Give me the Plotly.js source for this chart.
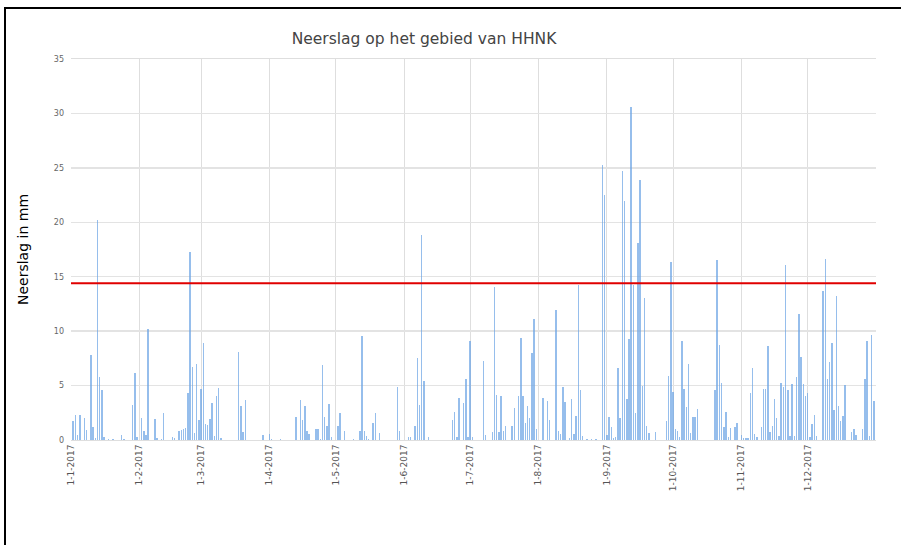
<!DOCTYPE html>
<html>
<head>
<meta charset="utf-8">
<script src="https://cdn.plot.ly/plotly-3.0.1.min.js"></script>
<style>
  html, body { margin: 0; padding: 0; background: #fff; }
  #wrap { position: relative; width: 901px; height: 545px; overflow: hidden; }
  #chart { position: absolute; left: 0; top: 0; width: 901px; height: 545px; }
  #frame { position: absolute; left: 4px; top: 7px; width: 900px; height: 560px;
           border-left: 2px solid #000; border-top: 2px solid #000; pointer-events: none; }
</style>
</head>
<body>
<div id="wrap">
  <div id="chart"></div>
  <div id="frame"></div>
</div>
<script>
// Daily precipitation (mm) per month: day-of-month and value
const daysJan = [2,3,4,5,7,8,10,11,12,13,14,15,16,18,20,24,25,29,30,31];
const mmJan   = [1.7,2.3,0.5,2.3,2.0,0.9,7.8,1.2,0.2,20.2,5.8,4.6,0.3,0.1,0.1,0.5,0.1,3.2,6.2,0.3];
const daysFeb = [2,3,4,5,8,9,11,12,16,17,19,20,21,22,23,24,25,26,27,28];
const mmFeb   = [2.0,0.8,0.5,10.2,1.9,0.2,0.1,2.5,0.3,0.2,0.8,0.9,1.0,1.1,4.3,17.3,6.7,0.6,7.0,1.8];
const daysMar = [1,2,3,4,5,6,7,8,9,10,18,19,20,21,29];
const mmMar   = [4.7,8.9,1.5,1.4,1.9,3.4,0.4,4.0,4.75,0.2,8.1,3.1,0.7,3.7,0.5];
const daysApr = [1,2,6,13,15,16,17,18,19,22,23,24,25,26,27,28,29];
const mmApr   = [0.55,0.1,0.05,2.1,3.7,1.8,3.1,0.8,0.55,1.0,1.0,0.1,6.9,2.1,1.3,3.3,0.3];
const daysMay = [2,3,5,9,12,13,14,15,16,18,19,21,29,30];
const mmMay   = [1.3,2.5,0.85,0.05,0.85,9.6,0.85,0.4,0.1,1.6,2.5,0.6,4.9,0.85];
const daysJun = [3,4,6,7,8,9,10,12,23,24,25,26,28,29,30];
const mmJun   = [0.3,0.3,1.3,7.5,3.2,18.8,5.4,0.25,1.8,2.6,0.3,3.9,3.4,5.6,0.25];
const daysJul = [1,2,7,8,11,12,13,14,15,16,17,20,21,23,24,25,26,27,28,29,30,31];
const mmJul   = [9.1,0.25,7.3,0.45,0.7,14.1,4.1,0.7,4.05,0.8,1.3,1.3,2.9,4.05,9.4,4.05,1.6,3.1,2.0,8.0,11.1,1.0];
const daysAug = [3,5,6,9,10,11,12,13,15,16,17,18,19,20,21,23,25,27,30,31];
const mmAug   = [3.9,3.6,1.8,11.9,0.85,0.55,4.85,3.5,0.15,3.8,0.55,2.2,14.2,4.6,0.4,0.1,0.1,0.1,25.3,22.5];
const daysSep = [1,2,3,4,5,6,7,8,9,10,11,12,13,14,15,16,17,18,19,20,23,28,29,30];
const mmSep   = [0.45,2.1,1.2,0.15,0.3,6.6,2.0,24.7,22.0,3.8,9.3,30.6,14.2,2.5,18.1,23.9,5.0,13.0,1.3,0.6,0.7,1.75,5.9,16.35];
const daysOct = [1,2,3,4,5,6,7,8,9,10,11,12,20,21,22,23,24,25,26,27,29,30];
const mmOct   = [4.4,1.0,0.8,0.25,9.1,4.7,3.0,7.0,0.6,2.15,2.15,2.85,4.6,16.5,8.7,5.2,1.2,2.55,0.25,1.1,1.2,1.6];
const daysNov = [1,2,3,4,5,6,7,8,10,11,12,13,14,15,16,17,18,19,20,21,22,23,24,25,26,27,28,29,30];
const mmNov   = [0.5,0.15,0.15,0.2,4.3,6.65,0.55,0.3,1.2,4.7,4.65,8.65,0.7,1.3,3.75,2.0,0.35,5.2,4.9,16.1,4.6,0.4,5.1,0.4,5.8,11.55,7.65,5.1,4.05];
const daysDec = [1,2,3,4,5,8,9,10,11,12,13,14,15,16,17,18,21,22,23,26,27,28,29,30,31];
const mmDec   = [4.3,0.3,1.45,2.3,0.4,13.7,16.65,5.6,7.15,8.95,2.8,13.2,3.1,1.7,2.25,5.05,0.7,1.0,0.45,1.0,5.6,9.05,0.4,9.65,3.6];

const thresholdMm = 14.4;

const tickDates  = ['2017-01-01','2017-02-01','2017-03-01','2017-04-01','2017-05-01','2017-06-01',
                    '2017-07-01','2017-08-01','2017-09-01','2017-10-01','2017-11-01','2017-12-01'];
const tickLabels = ['1-1-2017','1-2-2017','1-3-2017','1-4-2017','1-5-2017','1-6-2017',
                    '1-7-2017','1-8-2017','1-9-2017','1-10-2017','1-11-2017','1-12-2017'];

const monthDays = [daysJan,daysFeb,daysMar,daysApr,daysMay,daysJun,daysJul,daysAug,daysSep,daysOct,daysNov,daysDec];
const monthMm   = [mmJan,mmFeb,mmMar,mmApr,mmMay,mmJun,mmJul,mmAug,mmSep,mmOct,mmNov,mmDec];

const x = [], y = [];
monthDays.forEach((days, m) => {
  days.forEach((d, i) => {
    x.push('2017-' + String(m + 1).padStart(2, '0') + '-' + String(d).padStart(2, '0'));
    y.push(monthMm[m][i]);
  });
});

const DAY = 86400000;
const bars = {
  type: 'bar', x: x, y: y,
  width: x.map(() => 0.65 * DAY),
  marker: { color: 'rgba(110,165,228,0.72)', line: { width: 0 } },
  hoverinfo: 'x+y', showlegend: false
};

const layout = {
  width: 901, height: 545,
  margin: { l: 71, r: 25, t: 59, b: 105 },
  paper_bgcolor: '#fff', plot_bgcolor: '#fff',
  font: { family: 'DejaVu Sans, sans-serif', color: '#555' },
  title: { text: 'Neerslag op het gebied van HHNK', x: 0.4706, xref: 'container', xanchor: 'center',
           y: 0.930, yref: 'container', yanchor: 'middle',
           font: { family: 'DejaVu Sans, sans-serif', size: 15.5, color: '#444' } },
  bargap: 0,
  xaxis: {
    type: 'date', range: ['2017-01-01', '2018-01-01'],
    tickmode: 'array', tickvals: tickDates, ticktext: tickLabels, tickangle: -90,
    tickfont: { size: 9, color: '#555' },
    showgrid: true, gridcolor: '#dedede', gridwidth: 1,
    showline: true, linecolor: '#dedede', mirror: true, zeroline: false, ticks: '',
    fixedrange: true
  },
  yaxis: {
    range: [0, 35], dtick: 5, tick0: 0,
    tickfont: { size: 8, color: '#666' },
    showgrid: true, gridcolor: '#e3e3e3', gridwidth: 1.5,
    showline: false, zeroline: false, ticks: '', ticklabelstandoff: 6,
    title: { text: 'Neerslag in mm', standoff: 21, font: { size: 14, color: '#000' } },
    fixedrange: true
  },
  shapes: [
    { type: 'line', xref: 'paper', x0: 0, x1: 1, yref: 'y', y0: thresholdMm, y1: thresholdMm,
      line: { color: '#e00000', width: 2 } }
  ]
};

Plotly.newPlot('chart', [bars], layout, { staticPlot: true, displayModeBar: false });
</script>
</body>
</html>
